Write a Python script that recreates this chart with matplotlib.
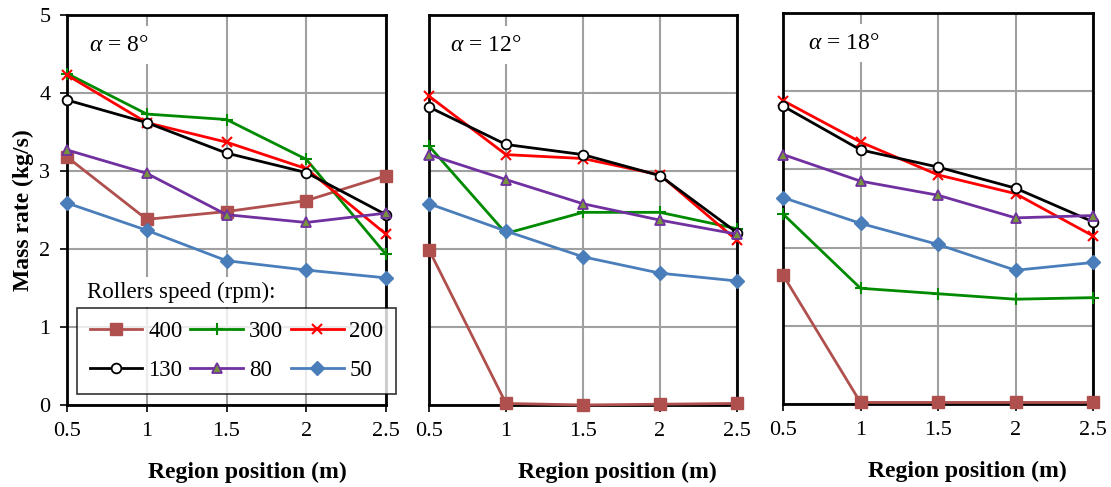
import matplotlib
matplotlib.use("Agg")
import matplotlib.pyplot as plt
from matplotlib.lines import Line2D

plt.rcParams['font.family'] = ['Liberation Serif', 'DejaVu Serif']
plt.rcParams['mathtext.fontset'] = 'custom'
plt.rcParams['mathtext.it'] = 'Liberation Serif:italic'
plt.rcParams['mathtext.rm'] = 'Liberation Serif'

positions = [0.5, 1, 1.5, 2, 2.5]
speeds = ["400", "300", "200", "130", "80", "50"]
angles = ["8", "12", "18"]

# Mass rate (kg/s) per angle, per roller speed
a8 = {
    "400": [3.18, 2.38, 2.48, 2.62, 2.94],
    "300": [4.25, 3.73, 3.66, 3.15, 1.93],
    "200": [4.23, 3.62, 3.37, 3.03, 2.19],
    "130": [3.91, 3.62, 3.23, 2.98, 2.44],
    "80":  [3.27, 2.97, 2.44, 2.34, 2.46],
    "50":  [2.59, 2.24, 1.85, 1.73, 1.63],
}
a12 = {
    "400": [1.99, 0.02, 0.00, 0.01, 0.02],
    "300": [3.32, 2.20, 2.47, 2.47, 2.26],
    "200": [3.96, 3.21, 3.16, 2.95, 2.11],
    "130": [3.82, 3.34, 3.21, 2.94, 2.21],
    "80":  [3.21, 2.89, 2.58, 2.37, 2.19],
    "50":  [2.58, 2.23, 1.90, 1.69, 1.59],
}
a18 = {
    "400": [1.65, 0.02, 0.02, 0.02, 0.02],
    "300": [2.43, 1.48, 1.41, 1.34, 1.36],
    "200": [3.88, 3.35, 2.93, 2.69, 2.15],
    "130": [3.81, 3.25, 3.03, 2.76, 2.33],
    "80":  [3.19, 2.85, 2.67, 2.38, 2.41],
    "50":  [2.64, 2.31, 2.04, 1.71, 1.81],
}
data = [a8, a12, a18]

styles = {
    "400": dict(color='#B0504E', marker='s', ms=8, mfc='#B0504E', mec='#B0504E', lw=2),
    "300": dict(color='#008A00', marker='+', ms=8, mew=1.5, lw=2),
    "200": dict(color='#FF0000', marker='x', ms=7, mew=1.5, lw=2),
    "130": dict(color='#000000', marker='o', ms=7, mfc='white', mec='#000000', mew=1.3, lw=2),
    "80":  dict(color='#7030A0', marker='^', ms=7, mfc='#77933C', mec='#7030A0', mew=1.3, lw=2),
    "50":  dict(color='#4A7EBB', marker='D', ms=7.5, mfc='#4A7EBB', mec='#4A7EBB', lw=2),
}

W, H = 1111, 487
fig = plt.figure(figsize=(W / 100, H / 100), dpi=100)

boxes = [(67, 386, 15, 405), (429, 737, 15, 405), (783, 1093, 13, 404)]
alpha_x = [0.07, 0.068, 0.08]
xlabel_x = [0.564, 0.61, 0.594]
axes = []
for i, (l, r, t, b) in enumerate(boxes):
    ax = fig.add_axes([l / W, 1 - b / H, (r - l) / W, (b - t) / H])
    axes.append(ax)
    ax.set_xlim(0.5, 2.5)
    ax.set_ylim(0, 5)
    ax.set_xticks(positions)
    ax.set_xticklabels(["0.5", "1", "1.5", "2", "2.5"])
    ax.set_yticks([0, 1, 2, 3, 4, 5])
    ax.grid(True, color='#A0A0A0', lw=1.5, zorder=0)
    ax.set_axisbelow(True)
    for s in ax.spines.values():
        s.set_color('black')
        s.set_linewidth(2)
    ax.tick_params(axis='both', direction='out', length=5, width=1.2, labelsize=16, pad=7)
    if i == 0:
        ax.set_ylabel("Mass rate (kg/s)", fontsize=17, fontweight='bold', labelpad=4)
    else:
        ax.tick_params(axis='y', length=0, labelleft=False)
    ax.set_xlabel("Region position (m)", fontsize=17, fontweight='bold')
    ax.xaxis.set_label_coords(xlabel_x[i], -0.145)
    for sp in speeds:
        st = dict(styles[sp])
        ax.plot(positions, data[i][sp], clip_on=False, zorder=3, **st)
    ax.text(alpha_x[i], 0.923, r"$\alpha$ = " + angles[i] + "°",
            transform=ax.transAxes, fontsize=17, ha='left', va='center',
            bbox=dict(facecolor='white', edgecolor='none', pad=6), zorder=2)

# legend filled row-wise: 400 300 200 / 130 80 50
order = ["400", "130", "300", "80", "200", "50"]
handles = [Line2D([0], [0], **styles[sp]) for sp in order]
leg = fig.legend(handles, order, loc='center', ncol=3,
                 bbox_to_anchor=((78 + 395) / 2 / W, 1 - (309 + 393) / 2 / H),
                 fontsize=16.5, frameon=True, fancybox=False, edgecolor='black',
                 handlelength=2.3, handletextpad=0.25, columnspacing=0.35,
                 labelspacing=0.8, borderpad=0.55)
leg.get_frame().set_linewidth(1.2)
fig.text(87 / W, 1 - 292 / H, "Rollers speed (rpm):", fontsize=16.5, ha='left', va='center',
         bbox=dict(facecolor='white', edgecolor='none', pad=3))

fig.savefig("out.png", dpi=100)
